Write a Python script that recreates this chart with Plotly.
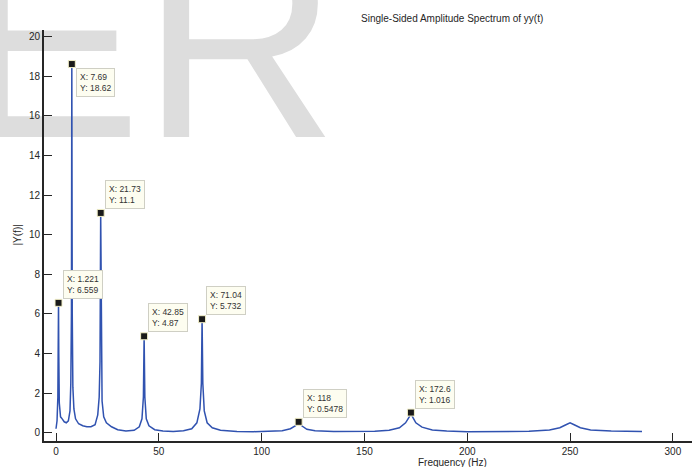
import plotly.graph_objects as go

# Spectrum (frequency in Hz, amplitude |Y(f)|)
freq = [0, 0.5, 0.9, 1.1, 1.221, 1.35, 1.6, 2.2, 3, 4, 5, 6, 6.8, 7.2, 7.5, 7.69, 7.9, 8.2, 8.7, 9.5,
        11, 13, 15, 17, 19, 20.3, 21.0, 21.4, 21.73, 22.0, 22.4, 23.2, 24.5, 27, 30, 34, 38, 40.5,
        41.8, 42.5, 42.85, 43.2, 43.9, 45.2, 48, 52, 57, 62, 66, 68.5, 70, 70.7, 71.04, 71.4, 72.1,
        73.5, 76, 80, 88, 96, 104, 110, 114, 116.5, 118, 119.5, 122, 126, 135, 145, 155, 162, 167,
        170, 171.8, 172.6, 173.4, 175, 178, 183, 190, 200, 215, 230, 240, 245, 248, 250, 252, 255,
        260, 270, 285]
amp = [0.2, 0.6, 1.8, 4.0, 6.559, 4.0, 1.5, 0.8, 0.7, 0.55, 0.5, 0.6, 1.1, 2.5, 6.0, 18.62, 6.0, 2.3, 1.2, 0.7,
       0.45, 0.35, 0.3, 0.3, 0.4, 0.9, 1.8, 3.6, 11.1, 3.6, 1.6, 0.8, 0.5, 0.3, 0.15, 0.08, 0.12, 0.3,
       0.7, 1.8, 4.87, 1.8, 0.7, 0.35, 0.15, 0.08, 0.06, 0.1, 0.2, 0.5, 1.2, 2.5, 5.732, 2.5, 1.1,
       0.5, 0.25, 0.12, 0.06, 0.05, 0.06, 0.1, 0.2, 0.35, 0.5478, 0.35, 0.17, 0.1, 0.06, 0.05, 0.07, 0.12, 0.25,
       0.5, 0.8, 1.016, 0.8, 0.5, 0.28, 0.14, 0.08, 0.05, 0.05, 0.07, 0.14, 0.25, 0.4, 0.5, 0.4, 0.25,
       0.14, 0.08, 0.06]

# Data tips
tip_x = [1.221, 7.69, 21.73, 42.85, 71.04, 118, 172.6]
tip_y = [6.559, 18.62, 11.1, 4.87, 5.732, 0.5478, 1.016]
tip_xtext = ["1.221", "7.69", "21.73", "42.85", "71.04", "118", "172.6"]
tip_ytext = ["6.559", "18.62", "11.1", "4.87", "5.732", "0.5478", "1.016"]
tip_side = ["bottom", "top", "bottom", "bottom", "bottom", "bottom", "bottom"]

x_ticks = [0, 50, 100, 150, 200, 250, 300]
y_ticks = [0, 2, 4, 6, 8, 10, 12, 14, 16, 18, 20]

title_text = "Single-Sided Amplitude Spectrum of yy(t)"
xlabel_text = "Frequency (Hz)"
ylabel_text = "|Y(f)|"
watermark_text = "ER"

FONT = "Liberation Sans, Arial, Helvetica, sans-serif"

fig = go.Figure()

# watermark (drawn beneath everything)
fig.add_trace(go.Scatter(
    x=[45.2], y=[18.37], mode="text", text=[watermark_text],
    textposition="middle center",
    textfont=dict(family=FONT, size=272, color="#dddddd"),
    cliponaxis=False, hoverinfo="skip", showlegend=False))

fig.add_trace(go.Scatter(
    x=freq, y=amp, mode="lines",
    line=dict(color="#3052b0", width=1.5),
    hoverinfo="skip", showlegend=False, cliponaxis=False))

fig.add_trace(go.Scatter(
    x=tip_x, y=tip_y, mode="markers",
    marker=dict(symbol="square", size=7, color="#1a1a1a",
                line=dict(color="#f3f0c8", width=1)),
    hoverinfo="skip", showlegend=False, cliponaxis=False))

annotations = []
for xv, yv, xt, yt, side in zip(tip_x, tip_y, tip_xtext, tip_ytext, tip_side):
    annotations.append(dict(
        x=xv, y=yv, xref="x", yref="y", showarrow=False,
        text=f"X: {xt}<br>Y: {yt}", align="left",
        xanchor="left", yanchor=side,
        xshift=4, yshift=(4 if side == "bottom" else -4),
        font=dict(family=FONT, size=8.5, color="#333333"),
        bgcolor="#fdfdf0", bordercolor="#cfcfc4", borderwidth=1, borderpad=3))

annotations.append(dict(
    x=(452 - 44) / 648, y=(440.7 - 462) / 410.7, xref="paper", yref="paper",
    showarrow=False, text=xlabel_text, xanchor="center", yanchor="middle",
    font=dict(family=FONT, size=10, color="#262626")))
annotations.append(dict(
    x=(17 - 44) / 648, y=0.5, xref="paper", yref="paper", textangle=-90,
    showarrow=False, text=ylabel_text, xanchor="center", yanchor="middle",
    font=dict(family=FONT, size=10, color="#262626")))
annotations.append(dict(
    x=(452 - 44) / 648, y=(440.7 - 19) / 410.7, xref="paper", yref="paper",
    showarrow=False, text=title_text, xanchor="center", yanchor="middle",
    font=dict(family=FONT, size=10, color="#262626")))

fig.update_layout(
    width=692, height=467, autosize=False,
    margin=dict(l=44, r=0, t=30, b=26.3, pad=0),
    paper_bgcolor="white", plot_bgcolor="white",
    annotations=annotations,
    font=dict(family=FONT, size=10, color="#262626"),
    xaxis=dict(range=[-5.84, 309.3], tickvals=x_ticks, ticktext=[str(v) for v in x_ticks],
               ticks="inside", ticklen=8, tickwidth=1, tickcolor="#262626",
               showline=True, linewidth=2, linecolor="#262626",
               showgrid=False, zeroline=False,
               tickfont=dict(family=FONT, size=10, color="#262626")),
    yaxis=dict(range=[-0.42, 20.34], tickvals=y_ticks, ticktext=[str(v) for v in y_ticks],
               ticks="inside", ticklen=8, tickwidth=1, tickcolor="#262626",
               showline=True, linewidth=2, linecolor="#262626",
               showgrid=False, zeroline=False,
               tickfont=dict(family=FONT, size=10, color="#262626")),
)

fig.write_html("out.html",
               config={"displayModeBar": False, "staticPlot": True},
               post_script="document.body.style.margin='0';document.body.style.padding='0';")
